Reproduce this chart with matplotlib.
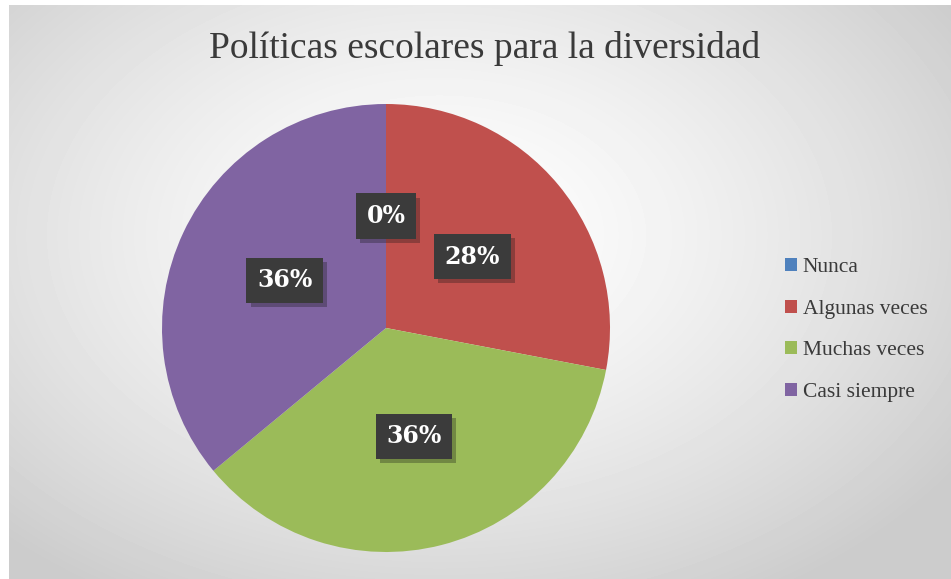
import matplotlib

matplotlib.use("Agg")
import matplotlib.pyplot as plt
import matplotlib.patheffects as pe
import numpy as np
from matplotlib.patches import Patch

TITLE = "Políticas escolares para la diversidad"
categories = ["Nunca", "Algunas veces", "Muchas veces", "Casi siempre"]
counts = [0, 7, 9, 9]
colors = ["#4f81bd", "#c0504d", "#9bbb59", "#8064a2"]

W, H = 951, 579
fig = plt.figure(figsize=(W / 100, H / 100), dpi=100)
fig.patch.set_facecolor("white")

# chart area background with a soft radial gradient
bg = fig.add_axes([9 / W, 0, (W - 9) / W, (H - 5) / H])
bg.set_axis_off()
yy, xx = np.mgrid[0:574, 0:942]
d = np.sqrt(((xx - 430) / 620.0) ** 2 + ((yy - 230) / 420.0) ** 2)
shade = 1.0 - 0.2 * np.clip(d, 0, 1) ** 1.4
bg.imshow(shade, cmap="gray", vmin=0, vmax=1, aspect="auto",
          extent=(0, 942, 574, 0), interpolation="bilinear")
bg.set_xlim(0, 942)
bg.set_ylim(574, 0)

fig.text(485 / W, 1 - 48 / H, TITLE, ha="center", va="center",
         fontsize=27, family="Liberation Serif", color="#3a3a3a")

cx, cy, r = 386, 328, 224
ax = fig.add_axes([(cx - r) / W, (H - cy - r) / H, 2 * r / W, 2 * r / H])
ax.set_axis_off()
wedges, texts, autotexts = ax.pie(
    counts, colors=colors, startangle=90, counterclock=False,
    autopct=lambda p: f"{p:.0f}%", pctdistance=0.5, radius=1.0,
    wedgeprops=dict(linewidth=0),
)
ax.set_xlim(-1, 1)
ax.set_ylim(-1, 1)
ax.set_aspect("auto")

for t in autotexts:
    t.set_color("white")
    t.set_fontsize(17)
    t.set_fontweight("bold")
    t.set_family("DejaVu Serif")
    t.set_bbox(dict(boxstyle="square,pad=0.45", facecolor="#3b3b3b",
                    edgecolor="none",
                    path_effects=[pe.SimplePatchShadow(offset=(3, -3),
                                                       alpha=0.3),
                                  pe.Normal()]))

handles = [Patch(facecolor=c, edgecolor="none") for c in colors]
fig.legend(handles, categories, loc="center left",
           bbox_to_anchor=(766 / W, 1 - 330 / H), frameon=False,
           prop=dict(family="Liberation Serif", size=15.5),
           handlelength=0.55, handleheight=0.55, handletextpad=0.25,
           labelspacing=1.05, labelcolor="#3a3a3a")

fig.savefig("out.png", dpi=100)
